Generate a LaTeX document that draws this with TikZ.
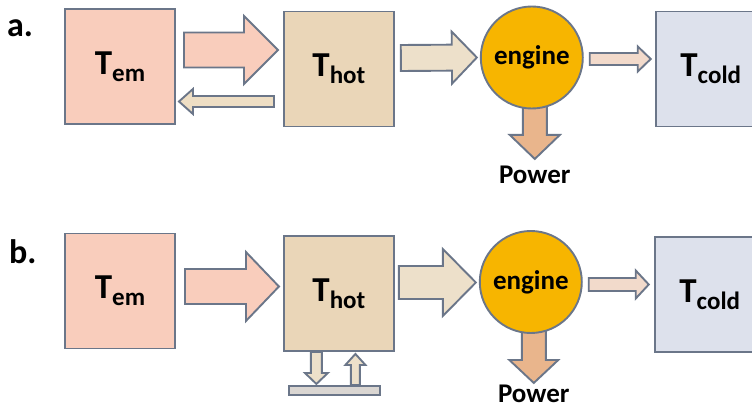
\documentclass[tikz,border=0pt]{standalone}
\usepackage{fontspec}
\setmainfont{Carlito}
\usetikzlibrary{positioning, calc, backgrounds}

\definecolor{rand}{HTML}{6B7689}
\definecolor{emfill}{HTML}{F9CDBC}
\definecolor{hotfill}{HTML}{EAD6B8}
\definecolor{coldfill}{HTML}{DDE1EC}
\definecolor{gold}{HTML}{F7B500}
\definecolor{backfill}{HTML}{EEDEC4}
\definecolor{workfill}{HTML}{EDE0CA}
\definecolor{wastefill}{HTML}{F2DACB}
\definecolor{powerfill}{HTML}{E9B58C}
\definecolor{platefill}{HTML}{DAD6D2}

% breiter Blockpfeil: [Stil]{von}{nach}{halbe Schaftbreite}{halbe Kopfbreite}{Kopflaenge}
\newcommand{\fatarrow}[6][]{%
    \coordinate (fa-s) at (#2);
    \coordinate (fa-t) at (#3);
    \coordinate (fa-h) at ($(fa-t)!#6!(fa-s)$);
    \draw[#1] ($(fa-s)!#4!90:(fa-t)$) -- ($(fa-h)!#4!90:(fa-t)$) -- ($(fa-h)!#5!90:(fa-t)$)
        -- (fa-t) -- ($(fa-h)!#5!-90:(fa-t)$) -- ($(fa-h)!#4!-90:(fa-t)$) -- ($(fa-s)!#4!-90:(fa-t)$) -- cycle;
}
\newcommand{\Tlab}[1]{{\fontsize{35}{35}\selectfont T}\raisebox{-7pt}{\fontsize{25}{25}\selectfont #1}}

\begin{document}
\begin{tikzpicture}[x=1pt, y=-1pt,
            res/.style={draw=rand, line width=1.9pt, rectangle, minimum width=110pt, minimum height=115pt, inner sep=0pt, font=\bfseries},
            engine/.style={draw=rand, line width=1.9pt, circle, fill=gold, minimum size=102pt, inner sep=0pt, font=\bfseries\fontsize{27}{27}\selectfont},
            arr/.style={draw=rand, line width=1.9pt, line join=miter},
            plate/.style={draw=rand, line width=1.6pt, fill=platefill, rectangle, minimum width=91pt, minimum height=9pt, inner sep=0pt},
            varlabel/.style={font=\bfseries\fontsize{27}{27}\selectfont, inner sep=0pt},
            rowlabel/.style={font=\bfseries\fontsize{34}{34}\selectfont, inner sep=0pt, anchor=base west}
        ]
        \useasboundingbox (0,0) rectangle (752,406);
        \clip (0,0) rectangle (752,406);

        % Zeile a
        \node[rowlabel] (laba) at (7,37) {a.};
        \node[res, fill=emfill] (tema) at (120,66.5) {\Tlab{em}};
        \node[res, fill=hotfill, right=107pt of tema, yshift=-2.5pt] (thota) {\Tlab{hot}};
        \node[engine, right=85pt of thota, yshift=11.5pt] (enga) {engine};
        \node[res, fill=coldfill, right=71pt of enga, yshift=-11.5pt] (colda) {\Tlab{cold}};
        \node[varlabel, below=56pt of enga, xshift=3pt] (powera) {Power};

        \fatarrow[arr, fill=emfill]{$(tema.east)+(8,-16.5)$}{$(thota.west)+(-5,-19)$}{17.5pt}{34pt}{34pt}
        \fatarrow[arr, fill=backfill]{$(thota.west)+(-9,32.5)$}{$(tema.east)+(3,35)$}{5.5pt}{12.5pt}{14pt}
        \fatarrow[arr, fill=workfill]{$(thota.east)+(6,-11)$}{$(enga.west)+(-3,0)$}{13pt}{26pt}{25pt}
        \fatarrow[arr, fill=wastefill]{$(enga.east)+(6,1.5)$}{$(colda.west)+(-4,-10)$}{6pt}{12.5pt}{13pt}
        \begin{scope}[on background layer]
            \fatarrow[arr, fill=powerfill]{$(enga.center)+(3,0)$}{$(enga.south)+(3,49.5)$}{12pt}{25pt}{24pt}
        \end{scope}

        % Zeile b
        \node[rowlabel] (labb) at (9,263) {b.};
        \node[res, fill=emfill] (temb) at (120,291) {\Tlab{em}};
        \node[res, fill=hotfill, right=107pt of temb, yshift=-2.5pt] (thotb) {\Tlab{hot}};
        \node[engine, right=84pt of thotb, yshift=11.5pt] (engb) {engine};
        \node[res, fill=coldfill, right=71pt of engb, yshift=-12.5pt] (coldb) {\Tlab{cold}};
        \node[varlabel, below=50.5pt of engb, xshift=3pt] (powerb) {Power};
        \node[plate, below=33pt of thotb, xshift=-4.5pt] (resb) {};

        \fatarrow[arr, fill=emfill]{$(temb.east)+(9,-4.5)$}{$(thotb.west)+(-4,-7)$}{17.5pt}{34.5pt}{33pt}
        \fatarrow[arr, fill=workfill]{$(thotb.east)+(4,-11)$}{$(engb.west)+(-3,0.5)$}{16.5pt}{33.5pt}{33pt}
        \fatarrow[arr, fill=wastefill]{$(engb.east)+(6,2.5)$}{$(coldb.west)+(-5,-10)$}{6.5pt}{14pt}{13pt}
        \fatarrow[arr, fill=workfill]{$(thotb.south)+(-22.5,0)$}{$(resb.north)+(-18,-1)$}{5.5pt}{11.5pt}{11pt}
        \fatarrow[arr, fill=workfill]{$(resb.north)+(21,0)$}{$(thotb.south)+(16.5,2)$}{4.5pt}{10pt}{11pt}
        \begin{scope}[on background layer]
            \fatarrow[arr, fill=powerfill]{$(engb.center)+(3,0)$}{$(engb.south)+(3,49)$}{12pt}{24.5pt}{23pt}
        \end{scope}

    \end{tikzpicture}
\end{document}
